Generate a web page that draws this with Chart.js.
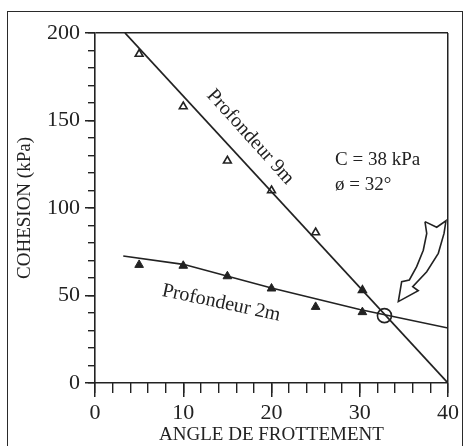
<!DOCTYPE html>
<html>
<head>
<meta charset="utf-8">
<script src="https://cdn.jsdelivr.net/npm/chart.js@4.4.1/dist/chart.umd.min.js"></script>
<style>
  html, body { margin: 0; padding: 0; background: #fff; }
  #wrap { position: relative; width: 464px; height: 446px; overflow: hidden; }
  #frame {
    position: absolute; left: 7px; top: 11px; width: 456px; height: 440px;
    border: 1.5px solid #2a2a2a; border-bottom: none; box-sizing: border-box;
  }
  canvas { position: absolute; left: 0; top: 0; }
</style>
</head>
<body>
<div id="wrap">
  <div id="frame"></div>
  <canvas id="chart" width="464" height="446"></canvas>
</div>
<script>
// ----- values -----
const angles = [5, 10, 15, 20, 25, 30.3];
const cohesion9m = [188, 158, 127, 110, 86, 53];
const cohesion2m = [67.5, 67, 61, 54, 43.5, 40.5];

// fitted lines
const fit9mAngle = [3.4, 40];
const fit9mCohesion = [200, 0];
const fit2mAngle = [3.2, 10, 20, 30, 40];
const fit2mCohesion = [72.6, 67.8, 54.3, 42, 31.4];

// intersection marker
const crossAngle = [32.8];
const crossCohesion = [38.5];

// hollow arrow outline
const arrowAngle = [37.39, 37.59, 37.2, 36.45, 35.62, 34.75, 34.37, 36.63, 36.0, 37.59, 38.9, 39.55, 39.77, 38.72, 37.39];
const arrowCohesion = [92.2, 85.5, 75.9, 66.5, 58.9, 57.9, 46.5, 52.7, 55.0, 63.6, 74.1, 85.5, 92.7, 89.0, 92.2];

// axis ticks
const xTickValues = [0, 10, 20, 30, 40];
const yTickValues = [0, 50, 100, 150, 200];

// notes on the plot
const noteTexts = ['Profondeur 9m', 'Profondeur 2m', 'C = 38 kPa', 'ø = 32°'];

const ink = '#222';
const serif = '"Liberation Serif", "Times New Roman", serif';

const pts = (xs, ys) => xs.map((v, i) => ({ x: v, y: ys[i] }));

// where each note sits (data units) and how it is turned
const notePlaces = [
  { x: 17.6, y: 140.6, rot: 48, align: 'center', size: 20 },
  { x: 14.3, y: 45.7, rot: 12, align: 'center', size: 20 },
  { x: 27.2, y: 127.7, rot: 0, align: 'left', size: 19 },
  { x: 27.2, y: 113, rot: 0, align: 'left', size: 19 }
];

const notesPlugin = {
  id: 'notes',
  afterDatasetsDraw(chart) {
    const { ctx, scales: { x, y } } = chart;
    ctx.save();
    ctx.fillStyle = ink;
    noteTexts.forEach((t, i) => {
      const p = notePlaces[i];
      ctx.save();
      ctx.font = p.size + 'px ' + serif;
      ctx.translate(x.getPixelForValue(p.x), y.getPixelForValue(p.y));
      ctx.rotate(p.rot * Math.PI / 180);
      ctx.textAlign = p.align;
      ctx.textBaseline = 'middle';
      ctx.fillText(t, 0, 0);
      ctx.restore();
    });
    ctx.restore();
  }
};

new Chart(document.getElementById('chart'), {
  type: 'scatter',
  data: {
    datasets: [
      {
        data: pts(fit9mAngle, fit9mCohesion),
        showLine: true, borderColor: ink, borderWidth: 1.8, pointRadius: 0
      },
      {
        data: pts(fit2mAngle, fit2mCohesion),
        showLine: true, borderColor: ink, borderWidth: 1.6, pointRadius: 0
      },
      {
        data: pts(angles, cohesion9m),
        pointStyle: 'triangle', pointRadius: 4.5, pointBorderWidth: 1.6,
        borderColor: ink,
        backgroundColor: ['#fff', '#fff', '#fff', '#fff', '#fff', ink]
      },
      {
        data: pts(angles, cohesion2m),
        pointStyle: 'triangle', pointRadius: 5, pointBorderWidth: 1,
        borderColor: ink, backgroundColor: ink
      },
      {
        data: pts(crossAngle, crossCohesion),
        pointStyle: 'circle', pointRadius: 7, pointBorderWidth: 1.6,
        borderColor: ink, backgroundColor: 'rgba(0,0,0,0)'
      },
      {
        data: pts(arrowAngle, arrowCohesion),
        showLine: true, borderColor: ink, borderWidth: 1.6, pointRadius: 0
      }
    ]
  },
  options: {
    responsive: false,
    animation: false,
    devicePixelRatio: 1,
    layout: { padding: { top: 33, right: 16, left: 0, bottom: 0 } },
    plugins: { legend: { display: false }, tooltip: { enabled: false } },
    scales: {
      x: {
        type: 'linear', min: 0, max: 40,
        afterBuildTicks: s => { s.ticks = xTickValues.map(v => ({ value: v })); },
        afterFit: s => { s.height = 63; },
        ticks: { color: ink, font: { family: serif, size: 22 }, padding: 3 },
        grid: {
          color: c => (c.tick && c.tick.value === 40 ? ink : 'rgba(0,0,0,0)'),
          tickColor: ink, tickLength: 14, lineWidth: 1.5
        },
        border: { display: true, color: ink, width: 1.6 },
        title: {
          display: true, text: 'ANGLE DE FROTTEMENT', color: ink,
          font: { family: serif, size: 19 }, padding: { top: 0, bottom: 0 }
        }
      },
      y: {
        type: 'linear', min: 0, max: 200,
        afterBuildTicks: s => { s.ticks = yTickValues.map(v => ({ value: v })); },
        afterFit: s => { s.width = 95; },
        ticks: { color: ink, font: { family: serif, size: 22 }, padding: 5 },
        grid: {
          color: c => (c.tick && c.tick.value === 200 ? ink : 'rgba(0,0,0,0)'),
          tickColor: ink, tickLength: 10, lineWidth: 1.5
        },
        border: { display: true, color: ink, width: 1.6 },
        title: {
          display: true, text: 'COHESION (kPa)', color: ink,
          font: { family: serif, size: 19 }, padding: { top: 14, bottom: 0 }
        }
      },
      xMinor: {
        type: 'linear', axis: 'x', position: { y: 0 }, min: 0, max: 40,
        ticks: { display: false, stepSize: 2 },
        grid: { drawOnChartArea: false, color: ink, tickLength: 10, lineWidth: 1.4 },
        border: { display: false }
      },
      yMinor: {
        type: 'linear', axis: 'y', position: { x: 0 }, min: 0, max: 200,
        ticks: { display: false, stepSize: 10 },
        grid: { drawOnChartArea: false, color: ink, tickLength: 7, lineWidth: 1.4 },
        border: { display: false }
      }
    }
  },
  plugins: [notesPlugin]
});
</script>
</body>
</html>
